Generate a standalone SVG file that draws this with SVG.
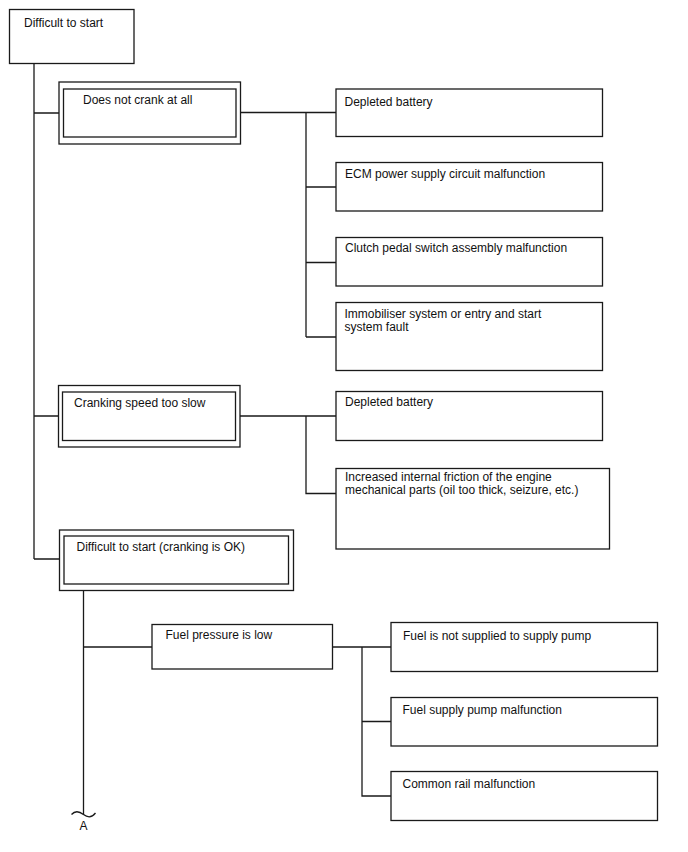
<svg xmlns="http://www.w3.org/2000/svg" width="688" height="852" viewBox="0 0 688 852">
<style>
.b{fill:#fff;stroke:#1a1a1a;stroke-width:1.3}
.c{fill:none;stroke:#1a1a1a;stroke-width:1.3}
text{font-family:"Liberation Sans",Arial,sans-serif;font-size:12px;fill:#111}
</style>
<rect width="688" height="852" fill="#fff"/>
<g id="connectors">
<path class="c" d="M34,63.5V559M34,113H59M34,416H58.5M34,559H59.5"/>
<path class="c" d="M240.5,112.5H336M306,112.5V337M306,187H336M306,262.5H336M306,337H336"/>
<path class="c" d="M240,416H336M306,416V493.5H336"/>
<path class="c" d="M83.5,591V815M83.5,647H152"/>
<path class="c" d="M332.5,647H391M362,647V796H391M362,721.5H391"/>
<path class="c" d="M71.5,814.5C75,810.5 79,811 83.5,814.5C88,818 92,817.5 95.5,813"/>
</g>
<g id="n0"><rect class="b" x="9.5" y="9.5" width="124.5" height="54"/><text x="24" y="26.5">Difficult to start</text></g>
<g id="n1"><rect class="b" x="59" y="82" width="181.5" height="62"/><rect class="b" x="63.5" y="89" width="172.5" height="48"/><text x="83" y="104">Does not crank at all</text></g>
<g id="n1a"><rect class="b" x="336" y="89" width="266.5" height="47.5"/><text x="344.5" y="106">Depleted battery</text></g>
<g id="n1b"><rect class="b" x="336" y="162.5" width="266.5" height="48.5"/><text x="345" y="177.5">ECM power supply circuit malfunction</text></g>
<g id="n1c"><rect class="b" x="336" y="237.5" width="266.5" height="48.5"/><text x="345" y="252">Clutch pedal switch assembly malfunction</text></g>
<g id="n1d"><rect class="b" x="336" y="302.5" width="266.5" height="68"/><text x="344.5" y="318">Immobiliser system or entry and start</text><text x="344.5" y="331">system fault</text></g>
<g id="n2"><rect class="b" x="58.5" y="385.5" width="181.5" height="61.5"/><rect class="b" x="62.5" y="392" width="173" height="48.5"/><text x="74" y="406.5">Cranking speed too slow</text></g>
<g id="n2a"><rect class="b" x="336" y="391.5" width="266.5" height="49"/><text x="345" y="405.5">Depleted battery</text></g>
<g id="n2b"><rect class="b" x="336" y="468.5" width="273.5" height="80.5"/><text x="345" y="480.5">Increased internal friction of the engine</text><text x="345" y="494">mechanical parts (oil too thick, seizure, etc.)</text></g>
<g id="n3"><rect class="b" x="59.5" y="530" width="234" height="60.5"/><rect class="b" x="64" y="536" width="224.5" height="48"/><text x="76.5" y="551">Difficult to start (cranking is OK)</text></g>
<g id="n3a"><rect class="b" x="152" y="624.5" width="180.5" height="44.5"/><text x="165.5" y="639">Fuel pressure is low</text></g>
<g id="n3a1"><rect class="b" x="391" y="622.5" width="266.5" height="49"/><text x="403" y="640">Fuel is not supplied to supply pump</text></g>
<g id="n3a2"><rect class="b" x="391" y="697.5" width="266.5" height="48.5"/><text x="402.5" y="714">Fuel supply pump malfunction</text></g>
<g id="n3a3"><rect class="b" x="391" y="771.5" width="266.5" height="49"/><text x="402.5" y="788">Common rail malfunction</text></g>
<g id="labelA"><text x="83.5" y="829.5" text-anchor="middle">A</text></g>
</svg>
